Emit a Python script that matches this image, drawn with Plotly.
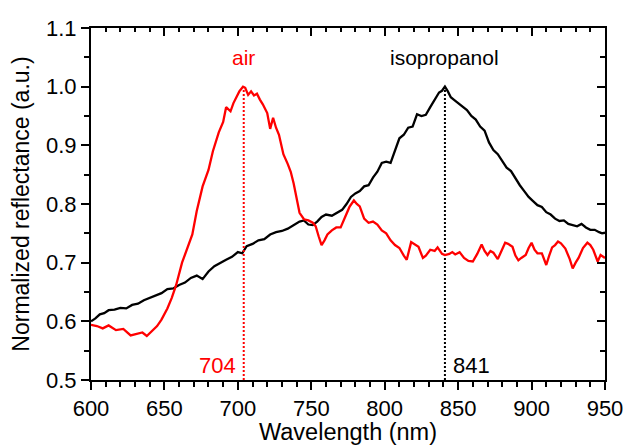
import plotly.graph_objects as go

# ---- data ----
air_wl = [600, 604, 608, 612, 617, 622, 627, 631, 635, 638, 641, 645, 648, 652, 655, 658, 662, 665, 669, 672,
          676, 680, 683, 687, 690, 692, 695, 697, 699, 701, 703.5, 705, 707, 709, 711, 713, 715, 717, 720, 722,
          724, 726, 728, 731, 734, 736, 738, 740, 742, 745, 748, 751, 753, 755, 757, 759, 761, 764, 767, 770,
          773, 776, 779, 781, 783, 786, 789, 792, 795, 798, 801, 804, 807, 810, 813, 815, 818, 820, 823, 826,
          828, 831, 834, 836, 839, 841, 844, 846, 848, 851, 854, 857, 860, 863, 866, 868, 870, 872, 874, 877,
          880, 882, 884, 887, 889, 891, 893, 896, 898, 900, 902, 904, 907, 910, 912, 914, 916, 918, 920, 923,
          926, 928, 930, 932, 935, 938, 940, 942, 945, 947, 950]
air_refl = [0.594, 0.592, 0.588, 0.593, 0.585, 0.587, 0.576, 0.578, 0.581, 0.575, 0.582, 0.592, 0.603, 0.622,
            0.640, 0.662, 0.700, 0.722, 0.748, 0.788, 0.830, 0.858, 0.890, 0.922, 0.940, 0.965, 0.958, 0.972,
            0.983, 0.992, 1.000, 0.998, 0.986, 0.992, 0.985, 0.988, 0.978, 0.970, 0.955, 0.928, 0.947, 0.930,
            0.918, 0.885, 0.868, 0.855, 0.835, 0.812, 0.785, 0.774, 0.772, 0.768, 0.762, 0.745, 0.730, 0.738,
            0.748, 0.755, 0.760, 0.760, 0.778, 0.795, 0.806, 0.800, 0.796, 0.775, 0.768, 0.770, 0.765, 0.755,
            0.750, 0.738, 0.730, 0.725, 0.712, 0.705, 0.735, 0.732, 0.727, 0.708, 0.712, 0.722, 0.720, 0.726,
            0.715, 0.713, 0.715, 0.718, 0.714, 0.718, 0.708, 0.703, 0.702, 0.715, 0.731, 0.720, 0.713, 0.720,
            0.717, 0.706, 0.722, 0.734, 0.732, 0.727, 0.712, 0.704, 0.708, 0.713, 0.725, 0.734, 0.722, 0.716,
            0.716, 0.696, 0.712, 0.726, 0.730, 0.736, 0.733, 0.724, 0.706, 0.690, 0.700, 0.708, 0.725, 0.734,
            0.730, 0.722, 0.702, 0.713, 0.708]

iso_wl = [600, 603, 606, 609, 612, 616, 620, 624, 628, 632, 636, 640, 644, 648, 652, 656, 660, 664, 668, 672,
          676, 680, 684, 688, 692, 696, 700, 703, 706, 710, 714, 718, 722, 726, 730, 734, 738, 742, 745, 748,
          751, 754, 757, 760, 764, 768, 771, 774, 777, 780, 783, 786, 789, 792, 795, 798, 801, 804, 807, 810,
          813, 816, 819, 822, 825, 828, 831, 834, 837, 839, 841, 843, 845, 847, 850, 853, 856, 859, 862, 865,
          868, 871, 874, 877, 880, 883, 886, 889, 892, 895, 898, 901, 904, 907, 910, 913, 916, 919, 922, 925,
          928, 931, 934, 937, 940, 943, 946, 948, 950]
iso_refl = [0.600, 0.605, 0.612, 0.614, 0.619, 0.620, 0.623, 0.622, 0.628, 0.630, 0.636, 0.640, 0.645, 0.648,
            0.655, 0.656, 0.662, 0.666, 0.674, 0.678, 0.672, 0.685, 0.694, 0.700, 0.705, 0.710, 0.718, 0.716,
            0.728, 0.732, 0.738, 0.740, 0.748, 0.752, 0.754, 0.758, 0.764, 0.770, 0.772, 0.765, 0.764, 0.770,
            0.778, 0.782, 0.780, 0.786, 0.790, 0.800, 0.812, 0.818, 0.822, 0.830, 0.832, 0.845, 0.855, 0.870,
            0.872, 0.870, 0.890, 0.912, 0.918, 0.930, 0.932, 0.953, 0.950, 0.952, 0.965, 0.978, 0.990, 0.993,
            1.000, 0.992, 0.982, 0.978, 0.972, 0.967, 0.960, 0.950, 0.944, 0.932, 0.925, 0.905, 0.892, 0.885,
            0.873, 0.862, 0.856, 0.843, 0.832, 0.822, 0.812, 0.805, 0.798, 0.795, 0.786, 0.782, 0.775, 0.771,
            0.772, 0.766, 0.764, 0.762, 0.766, 0.760, 0.756, 0.756, 0.752, 0.750, 0.751]

air_peak = 704
iso_peak = 841
peak_line_y = [0.5, 1.0]
series_labels = ["air", "isopropanol"]

RED = "#ff0000"
BLACK = "#000000"
FONT = "Arial, Liberation Sans, sans-serif"

fig = go.Figure()
# black (isopropanol) on main axes
fig.add_trace(go.Scatter(x=iso_wl, y=iso_refl, mode="lines", line=dict(color=BLACK, width=2.3),
                         showlegend=False, hoverinfo="skip"))
fig.add_trace(go.Scatter(x=[iso_peak, iso_peak], y=peak_line_y, mode="lines",
                         line=dict(color=BLACK, width=2, dash="2px,2px"), showlegend=False, hoverinfo="skip"))
# red (air) on overlay axes (top/right with inside ticks)
fig.add_trace(go.Scatter(x=air_wl, y=air_refl, mode="lines", line=dict(color=RED, width=2.3),
                         xaxis="x2", yaxis="y2", showlegend=False, hoverinfo="skip"))
fig.add_trace(go.Scatter(x=[air_peak, air_peak], y=peak_line_y, mode="lines",
                         line=dict(color=RED, width=2, dash="2px,2px"), xaxis="x2", yaxis="y2",
                         showlegend=False, hoverinfo="skip"))

xr = [600, 950]
yr = [0.5, 1.1]
common = dict(showgrid=False, zeroline=False, showline=True, linecolor=BLACK, linewidth=2,
              tickcolor=BLACK, tickwidth=2, automargin=False)

fig.update_layout(
    width=626, height=445,
    margin=dict(l=91, r=21, t=28, b=65, autoexpand=False),
    paper_bgcolor="white", plot_bgcolor="white",
    font=dict(family=FONT, color=BLACK),
    xaxis=dict(range=xr, tick0=600, dtick=50, ticks="outside", ticklen=8,
               minor=dict(dtick=10, ticks="outside", ticklen=5, tickwidth=2, tickcolor=BLACK),
               tickfont=dict(size=22, family=FONT),
               title=dict(text="Wavelength (nm)", font=dict(size=23.5, family=FONT), standoff=6),
               **common),
    yaxis=dict(range=yr, tick0=0.5, dtick=0.1, tickformat=".1f", ticks="outside", ticklen=8,
               minor=dict(dtick=0.05, ticks="outside", ticklen=5, tickwidth=2, tickcolor=BLACK),
               tickfont=dict(size=22, family=FONT),
               title=dict(text="Normalized reflectance (a.u.)", font=dict(size=23, family=FONT), standoff=10),
               **common),
    xaxis2=dict(range=xr, overlaying="x", side="top", anchor="y2", tick0=600, dtick=50, ticks="inside",
                ticklen=8, showticklabels=False,
                minor=dict(dtick=10, ticks="inside", ticklen=4, tickwidth=2, tickcolor=BLACK),
                **common),
    yaxis2=dict(range=yr, overlaying="y", side="right", anchor="x2", tick0=0.5, dtick=0.1, ticks="inside",
                ticklen=8, showticklabels=False,
                minor=dict(dtick=0.05, ticks="inside", ticklen=5, tickwidth=2, tickcolor=BLACK),
                **common),
    annotations=[
        dict(x=air_peak, y=1.05, xref="x", yref="y", text=series_labels[0], showarrow=False,
             font=dict(size=21, color=RED, family=FONT), xanchor="center", yanchor="middle"),
        dict(x=iso_peak, y=1.05, xref="x", yref="y", text=series_labels[1], showarrow=False,
             font=dict(size=21, color=BLACK, family=FONT), xanchor="center", yanchor="middle"),
        dict(x=air_peak, y=0.525, xref="x", yref="y", text=str(air_peak), showarrow=False,
             font=dict(size=22, color=RED, family=FONT), xanchor="right", yanchor="middle", xshift=-6),
        dict(x=iso_peak, y=0.525, xref="x", yref="y", text=str(iso_peak), showarrow=False,
             font=dict(size=22, color=BLACK, family=FONT), xanchor="left", yanchor="middle", xshift=6),
    ],
)

fig.write_html("out.html")
